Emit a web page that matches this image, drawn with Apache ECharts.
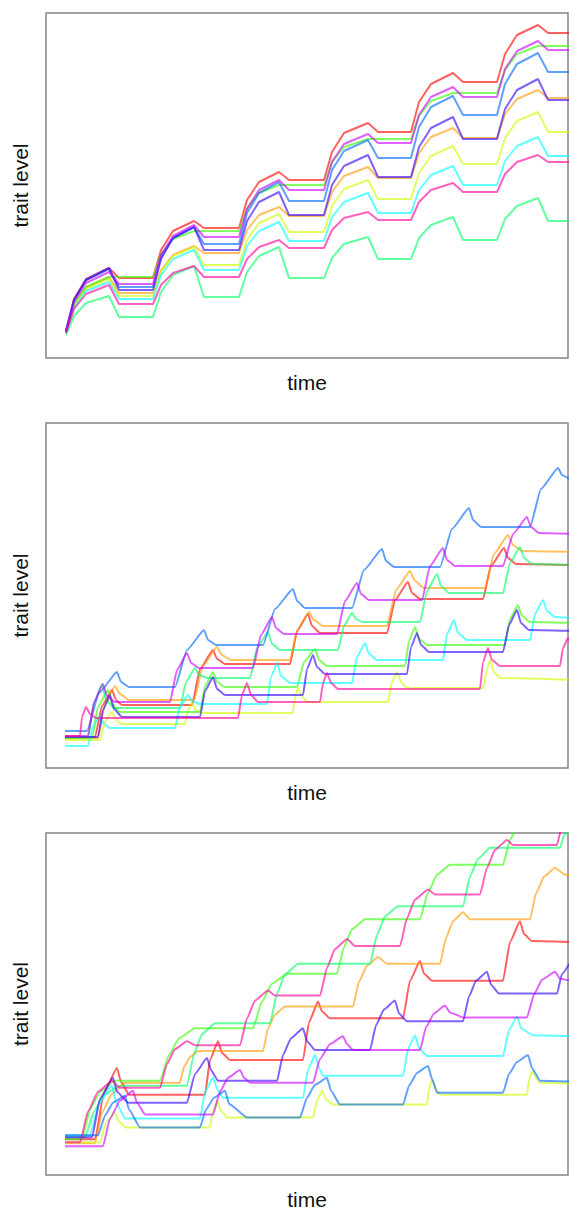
<!DOCTYPE html>
<html><head><meta charset="utf-8">
<script src="https://cdn.jsdelivr.net/npm/echarts@6/dist/echarts.min.js"></script>
<style>html,body{margin:0;padding:0;background:#fff}#c{width:569px;height:1211px}</style>
</head><body><div id="c"></div>
<script>
// colours (R rainbow(10), drawn semi-transparent)
const seriesNames = ['red','orange','yellow','lime','mint','cyan','blue','purple','magenta','pink'];
const seriesColors = ['#FF0000','#FF9900','#CCFF00','#33FF00','#00FF66','#00FFFF','#0066FF','#3300FF','#CC00FF','#FF0099'];

// ---------- panel 1 : shared time points ----------
const p1Time = [20,28,40,63,73, 107,115,127,148,158, 193,201,213,233,243, 278,286,298,322,332, 365,373,385,407,417, 451,459,471,492,502, 529];
const p1Red     = [30,61,81,92,82, 82,110,129,139,132, 132,160,178,188,180, 180,208,227,237,228, 228,258,276,287,278, 278,306,325,335,327, 327];
const p1Orange  = [28,55,73,83,67, 67,90,105,114,107, 107,130,145,153,144, 144,168,184,193,182, 182,207,223,232,222, 222,246,261,270,262, 262];
const p1Yellow  = [27,54,71,81,64, 64,88,104,113,95, 95,120,137,146,128, 128,154,171,180,161, 161,187,204,214,196, 196,222,239,248,228, 228];
const p1Lime    = [29,56,73,83,83, 83,106,121,129,129, 129,152,167,175,175, 175,198,213,221,221, 221,244,259,267,267, 267,290,306,314,314, 314];
const p1Mint    = [25,44,57,64,43, 43,68,85,94,63, 63,88,104,113,82, 82,102,116,123,101, 101,122,135,143,120, 120,141,154,162,139, 139];
const p1Cyan    = [27,52,69,78,61, 61,85,101,110,90, 90,114,129,138,119, 119,143,158,167,147, 147,170,185,194,175, 175,199,214,223,204, 204];
const p1Blue    = [29,60,80,91,73, 73,103,122,133,116, 116,147,167,178,159, 159,190,209,220,202, 202,233,253,264,245, 245,276,296,307,288, 288];
const p1Purple  = [28,60,80,92,70, 70,101,122,133,110, 110,139,158,168,145, 145,175,194,205,183, 183,213,232,243,221, 221,251,270,281,260, 260];
const p1Magenta = [29,58,77,88,76, 76,105,124,135,123, 123,151,170,180,170, 170,198,216,226,217, 217,245,263,273,263, 263,291,309,319,310, 310];
const p1Pink    = [27,51,66,75,56, 56,75,87,94,83, 83,101,113,120,112, 112,130,142,148,140, 140,158,170,177,168, 168,186,198,205,198, 198];

// ---------- panel 2 : [time, level] ----------
const p2Red = [[19,33],[49,33],[56,64],[66,80],[70,70],[76,65],[146,65],[154,101],[167,120],[171,111],[179,106],[244,106],[251,139],[262,156],[266,144],[274,137],[341,137],[349,170],[362,188],[366,177],[374,171],[437,171],[445,204],[458,222],[462,212],[470,206],[529,205]];
const p2Orange = [[19,32],[52,32],[59,66],[69,84],[74,76],[83,70],[148,70],[157,104],[171,123],[176,115],[185,110],[244,110],[252,141],[263,158],[268,150],[277,144],[341,144],[350,180],[364,199],[369,189],[378,182],[439,182],[448,216],[462,235],[467,225],[476,219],[529,218]];
const p2Yellow = [[19,30],[54,30],[59,48],[66,58],[70,50],[76,46],[139,46],[142,60],[146,67],[150,60],[156,57],[247,57],[249,73],[252,82],[256,73],[262,68],[342,68],[346,88],[351,98],[355,88],[361,82],[437,82],[441,100],[444,110],[448,98],[454,92],[529,90]];
const p2Lime = [[19,32],[46,32],[52,63],[62,80],[66,66],[74,58],[154,58],[159,84],[167,98],[171,88],[179,83],[251,83],[258,108],[269,121],[273,110],[281,104],[359,104],[363,129],[369,143],[373,131],[381,125],[459,125],[464,151],[472,165],[476,154],[484,148],[529,147]];
const p2Mint = [[19,33],[42,33],[48,67],[56,86],[60,70],[68,62],[134,62],[140,88],[149,102],[153,95],[161,92],[204,92],[211,122],[222,138],[226,126],[234,120],[292,120],[298,144],[306,157],[310,151],[316,148],[374,148],[381,179],[391,196],[395,184],[403,177],[457,177],[464,207],[474,223],[478,212],[486,206],[529,205]];
const p2Cyan = [[19,24],[42,24],[47,44],[54,54],[58,46],[64,42],[129,42],[134,63],[142,75],[146,69],[154,66],[221,66],[225,93],[231,107],[235,94],[244,87],[306,87],[311,113],[319,127],[323,116],[331,110],[397,110],[401,136],[408,150],[412,137],[421,130],[484,130],[489,156],[497,170],[501,159],[509,153],[529,152]];
const p2Blue = [[19,39],[41,39],[53,77],[71,98],[75,88],[83,83],[129,83],[141,120],[158,140],[162,130],[170,125],[217,125],[229,161],[247,181],[251,169],[259,162],[306,162],[318,200],[336,221],[340,209],[348,203],[394,203],[406,241],[423,262],[427,250],[435,243],[484,243],[495,281],[512,302],[516,295],[524,291],[529,290]];
const p2Purple = [[19,33],[52,33],[57,60],[64,75],[68,61],[76,53],[154,53],[159,79],[167,93],[171,81],[179,75],[257,75],[261,101],[267,115],[271,103],[279,96],[361,96],[365,123],[371,137],[375,125],[383,118],[457,118],[463,145],[471,160],[475,147],[483,140],[529,139]];
const p2Magenta = [[19,34],[42,34],[48,68],[57,86],[61,74],[69,68],[124,68],[131,100],[141,117],[145,107],[153,102],[207,102],[215,135],[226,153],[230,142],[238,136],[291,136],[299,169],[311,187],[315,176],[323,170],[376,170],[384,204],[397,222],[401,210],[409,204],[457,204],[467,236],[481,253],[485,243],[493,237],[529,236]];
const p2Pink = [[19,34],[34,34],[36,53],[40,63],[44,56],[50,52],[192,52],[196,75],[201,87],[205,75],[212,68],[274,68],[277,87],[281,97],[285,87],[292,81],[434,81],[437,108],[442,122],[446,110],[454,104],[514,104],[517,122],[522,132],[526,124],[529,120]];

// ---------- panel 3 : [time, level] ----------
const p3Red = [[19,38],[49,38],[58,85],[71,110],[75,96],[83,83],[159,83],[164,118],[172,137],[176,125],[184,118],[257,118],[263,156],[272,177],[276,167],[284,160],[357,160],[364,198],[374,218],[378,205],[386,198],[457,198],[464,237],[474,258],[478,245],[486,238],[529,237]];
const p3Orange = [[19,34],[49,34],[56,65],[66,84],[79,95],[134,95],[138,111],[144,121],[152,127],[217,127],[222,150],[229,164],[239,172],[307,172],[313,197],[321,213],[332,222],[341,215],[394,215],[400,241],[407,258],[417,267],[424,260],[484,260],[490,286],[498,303],[509,312],[519,305],[529,304]];
const p3Yellow = [[19,35],[54,35],[60,55],[69,65],[73,56],[79,50],[164,50],[167,67],[171,77],[175,67],[181,60],[267,60],[271,77],[276,87],[280,78],[287,73],[381,73],[383,89],[386,98],[390,89],[394,83],[481,83],[483,98],[486,107],[490,100],[494,95],[529,94]];
const p3Lime = [[19,38],[36,38],[44,68],[54,86],[69,97],[114,97],[123,123],[133,140],[149,150],[207,150],[216,177],[226,195],[241,205],[291,205],[298,232],[306,250],[319,260],[374,260],[382,287],[391,305],[404,315],[457,315],[464,340],[472,356],[484,365],[529,368]];
const p3Mint = [[19,40],[39,40],[48,66],[58,83],[74,92],[141,92],[148,124],[156,144],[169,155],[224,155],[231,185],[239,204],[252,215],[324,215],[331,244],[339,263],[352,273],[417,273],[424,303],[432,321],[444,332],[514,332],[518,345],[529,355]];
const p3Cyan = [[19,42],[44,42],[53,74],[66,92],[70,76],[79,59],[154,59],[159,86],[167,100],[171,89],[177,80],[257,80],[262,108],[269,123],[273,110],[277,102],[357,102],[362,129],[369,143],[373,130],[381,122],[457,122],[463,148],[471,162],[475,150],[487,143],[529,142]];
const p3Blue = [[19,42],[52,42],[59,62],[67,75],[79,82],[83,68],[94,50],[154,50],[160,68],[168,80],[179,87],[183,74],[201,60],[254,60],[261,80],[269,93],[281,100],[285,87],[294,73],[357,73],[363,92],[371,105],[382,112],[386,99],[391,85],[457,85],[463,104],[471,116],[482,123],[486,110],[494,97],[529,96]];
const p3Purple = [[19,40],[46,40],[54,79],[67,100],[71,86],[82,75],[141,75],[149,104],[161,120],[165,108],[172,97],[231,97],[237,123],[245,140],[257,150],[261,137],[269,128],[324,128],[330,153],[338,169],[349,178],[353,165],[361,157],[417,157],[423,182],[430,198],[441,207],[445,194],[453,185],[511,185],[516,205],[529,225]];
const p3Magenta = [[19,31],[57,31],[64,59],[74,77],[87,87],[91,75],[99,63],[167,63],[174,86],[182,100],[194,108],[198,100],[204,95],[267,95],[274,119],[284,134],[297,142],[301,134],[307,128],[374,128],[380,151],[388,165],[399,173],[404,166],[417,161],[481,161],[488,184],[496,199],[509,207],[514,200],[529,197]];
const p3Pink = [[19,35],[34,35],[42,66],[52,86],[66,97],[74,90],[114,90],[121,114],[129,129],[141,137],[149,133],[194,133],[201,160],[209,178],[222,188],[229,183],[274,183],[281,211],[289,230],[301,240],[309,233],[354,233],[361,261],[369,280],[382,290],[389,285],[434,285],[441,312],[449,330],[461,340],[467,335],[511,335],[516,355],[529,375]];

const p1Series = [p1Red,p1Orange,p1Yellow,p1Lime,p1Mint,p1Cyan,p1Blue,p1Purple,p1Magenta,p1Pink].map(v => v.map((y,i)=>[p1Time[i], y]));
const p2Series = [p2Red,p2Orange,p2Yellow,p2Lime,p2Mint,p2Cyan,p2Blue,p2Purple,p2Magenta,p2Pink];
const p3Series = [p3Red,p3Orange,p3Yellow,p3Lime,p3Mint,p3Cyan,p3Blue,p3Purple,p3Magenta,p3Pink];

const tops = [13, 423, 833];
const smoothing = [0, 0.15, 0.15];
const font = 'Liberation Sans, Arial, sans-serif';
const grids = tops.map(t => ({left:46, top:t, width:522, height:345, show:true, borderColor:'#858585', borderWidth:1.5, backgroundColor:'transparent'}));
const xAxes = tops.map((t,i) => ({gridIndex:i, type:'value', min:0, max:522, axisLine:{show:false}, axisTick:{show:false}, axisLabel:{show:false}, splitLine:{show:false},
  name:'time', nameLocation:'middle', nameGap:14, nameTextStyle:{fontSize:21, color:'#111', fontFamily:font}}));
const yAxes = tops.map((t,i) => ({gridIndex:i, type:'value', min:2, max:347, axisLine:{show:false}, axisTick:{show:false}, axisLabel:{show:false}, splitLine:{show:false},
  name:'trait level', nameLocation:'middle', nameGap:15, nameTextStyle:{fontSize:21, color:'#111', fontFamily:font}}));

const series = [];
[p1Series, p2Series, p3Series].forEach((group, gi) => {
  group.forEach((data, si) => {
    series.push({type:'line', name:seriesNames[si], xAxisIndex:gi, yAxisIndex:gi, data:data, symbol:'none', silent:true, clip:true,
      smooth:smoothing[gi], smoothMonotone:'x',
      lineStyle:{color:seriesColors[si], width:2, opacity:0.62}});
  });
});

const chart = echarts.init(document.getElementById('c'), null, {renderer:'svg'});
chart.setOption({animation:false, backgroundColor:'#fff', grid:grids, xAxis:xAxes, yAxis:yAxes, series:series});
</script></body></html>
